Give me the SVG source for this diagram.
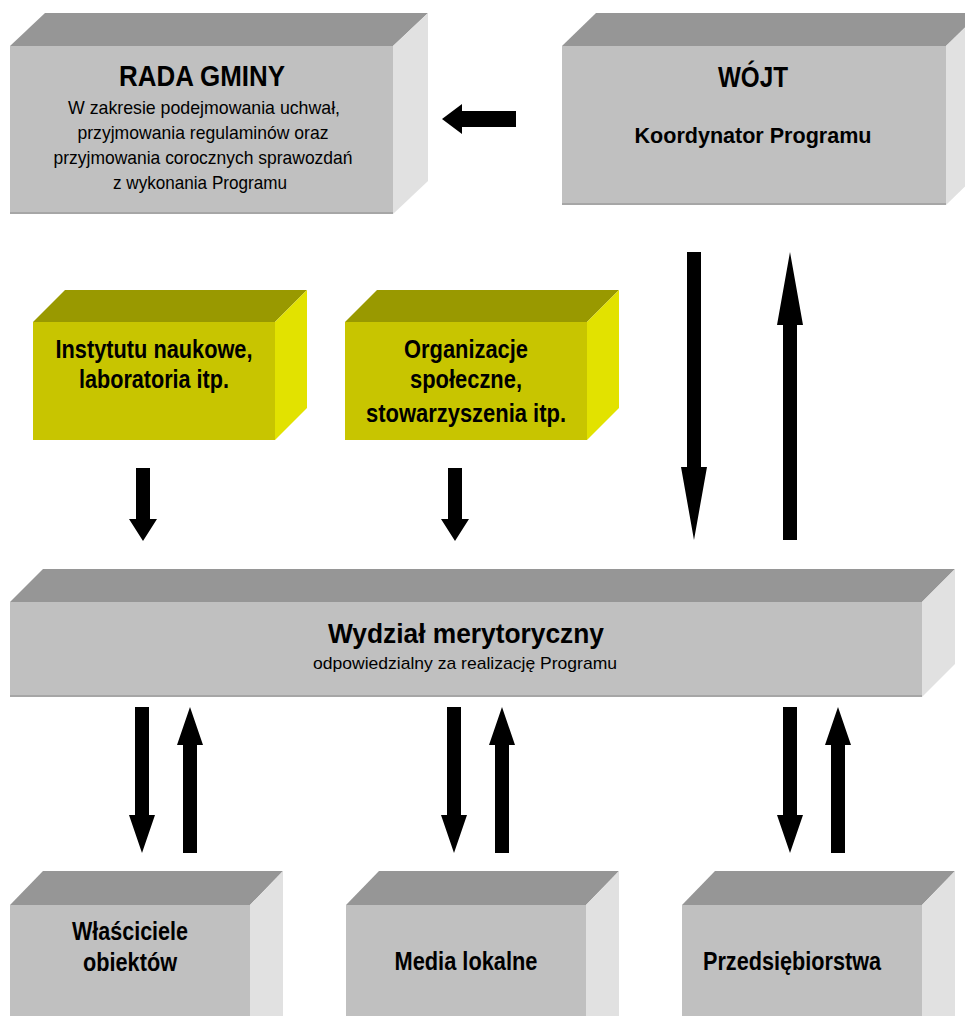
<svg xmlns="http://www.w3.org/2000/svg" width="965" height="1016" viewBox="0 0 965 1016">
<style>
.gf{fill:#c0c0c0}
.gt{fill:#969696}
.gs{fill:#e1e1e1}
.ge{stroke:#a6a6a6;stroke-width:2}
.yf{fill:#c8c500}
.yt{fill:#999900}
.ys{fill:#e2e200}
text{font-family:"Liberation Sans Narrow","Liberation Sans",Arial,sans-serif;fill:#000;text-anchor:middle}
.b{font-weight:bold}
.arr{fill:#000}
</style>
<rect width="965" height="1016" fill="#fff"/>
<g id="rada">
<polygon class="gt" points="10,46 45,13 428,13 393,46"/>
<polygon class="gs" points="393,46 428,13 428,181 393,214"/>
<rect class="gf" x="10" y="46" width="383" height="168"/>
<line class="ge" x1="10" y1="213" x2="393" y2="213"/>
<text class="b" x="202" y="86" font-size="29" textLength="166" lengthAdjust="spacingAndGlyphs">RADA GMINY</text>
<text x="204" y="114" font-size="19" textLength="272" lengthAdjust="spacingAndGlyphs">W zakresie podejmowania uchwał,</text>
<text x="203" y="139" font-size="19" textLength="251" lengthAdjust="spacingAndGlyphs">przyjmowania regulaminów oraz</text>
<text x="203" y="164" font-size="19" textLength="299" lengthAdjust="spacingAndGlyphs">przyjmowania corocznych sprawozdań</text>
<text x="200" y="189" font-size="19" textLength="174" lengthAdjust="spacingAndGlyphs">z wykonania Programu</text>
</g>
<g id="wojt">
<polygon class="gt" points="562,46 596,13 980,13 946,46"/>
<polygon class="gs" points="946,46 980,13 980,172 946,205"/>
<rect class="gf" x="562" y="46" width="384" height="159"/>
<line class="ge" x1="562" y1="204" x2="946" y2="204"/>
<text class="b" x="753" y="87" font-size="29" textLength="70" lengthAdjust="spacingAndGlyphs">WÓJT</text>
<text class="b" x="753" y="143" font-size="22" textLength="237" lengthAdjust="spacingAndGlyphs">Koordynator Programu</text>
</g>
<g id="instytuty">
<polygon class="yt" points="33,322 65,290 307,290 275,322"/>
<polygon class="ys" points="275,322 307,290 307,408 275,440"/>
<rect class="yf" x="33" y="322" width="242" height="118"/>
<text class="b" x="154" y="358" font-size="25" textLength="197" lengthAdjust="spacingAndGlyphs">Instytutu naukowe,</text>
<text class="b" x="154" y="388" font-size="25" textLength="150" lengthAdjust="spacingAndGlyphs">laboratoria itp.</text>
</g>
<g id="organizacje">
<polygon class="yt" points="345,322 377,290 619,290 587,322"/>
<polygon class="ys" points="587,322 619,290 619,408 587,440"/>
<rect class="yf" x="345" y="322" width="242" height="118"/>
<text class="b" x="466" y="358" font-size="25" textLength="124" lengthAdjust="spacingAndGlyphs">Organizacje</text>
<text class="b" x="466" y="388" font-size="25" textLength="112" lengthAdjust="spacingAndGlyphs">społeczne,</text>
<text class="b" x="466" y="422" font-size="25" textLength="200" lengthAdjust="spacingAndGlyphs">stowarzyszenia itp.</text>
</g>
<g id="wydzial">
<polygon class="gt" points="10,602 43,569 955,569 922,602"/>
<polygon class="gs" points="922,602 955,569 955,664 922,697"/>
<rect class="gf" x="10" y="602" width="912" height="95"/>
<line class="ge" x1="10" y1="696" x2="922" y2="696"/>
<text class="b" x="466" y="643" font-size="28" textLength="276" lengthAdjust="spacingAndGlyphs">Wydział merytoryczny</text>
<text x="465" y="669" font-size="17" textLength="304" lengthAdjust="spacingAndGlyphs">odpowiedzialny za realizację Programu</text>
</g>
<g id="wlasciciele">
<polygon class="gt" points="10,905 43,871 283,871 250,905"/>
<polygon class="gs" points="250,905 283,871 283,1016 250,1016"/>
<rect class="gf" x="10" y="905" width="240" height="111"/>
<text class="b" x="130" y="940" font-size="26" textLength="116" lengthAdjust="spacingAndGlyphs">Właściciele</text>
<text class="b" x="130" y="971" font-size="26" textLength="94" lengthAdjust="spacingAndGlyphs">obiektów</text>
</g>
<g id="media">
<polygon class="gt" points="346,905 379,871 619,871 586,905"/>
<polygon class="gs" points="586,905 619,871 619,1016 586,1016"/>
<rect class="gf" x="346" y="905" width="240" height="111"/>
<text class="b" x="466" y="970" font-size="26" textLength="143" lengthAdjust="spacingAndGlyphs">Media lokalne</text>
</g>
<g id="przedsiebiorstwa">
<polygon class="gt" points="682,905 715,871 955,871 922,905"/>
<polygon class="gs" points="922,905 955,871 955,1016 922,1016"/>
<rect class="gf" x="682" y="905" width="240" height="111"/>
<text class="b" x="792" y="970" font-size="26" textLength="178" lengthAdjust="spacingAndGlyphs">Przedsiębiorstwa</text>
</g>
<g id="connectors" class="arr">
<polygon points="516,111 462,111 462,104 442,119 462,134 462,127 516,127"/>
<polygon points="687,252 701,252 701,467 707,467 694,540 681,467 687,467"/>
<polygon points="783,540 797,540 797,325 803,325 790,252 777,325 783,325"/>
<polygon points="136,468 150,468 150,519 157,519 143,541 129,519 136,519"/>
<polygon points="448,468 462,468 462,519 469,519 455,541 441,519 448,519"/>
<polygon points="135,707 149,707 149,815 155,815 142,853 129,815 135,815"/>
<polygon points="183,853 197,853 197,745 203,745 190,707 177,745 183,745"/>
<polygon points="447,707 461,707 461,815 467,815 454,853 441,815 447,815"/>
<polygon points="495,853 509,853 509,745 515,745 502,707 489,745 495,745"/>
<polygon points="783,707 797,707 797,815 803,815 790,853 777,815 783,815"/>
<polygon points="831,853 845,853 845,745 851,745 838,707 825,745 831,745"/>
</g>
</svg>
